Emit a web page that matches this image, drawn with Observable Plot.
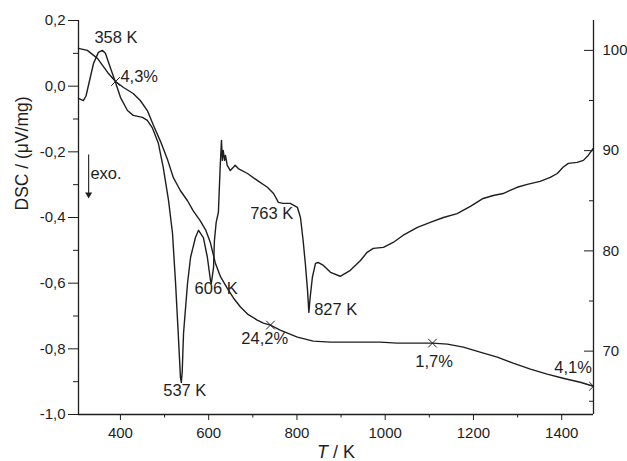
<!DOCTYPE html>
<html><head><meta charset="utf-8">
<script src="https://cdn.jsdelivr.net/npm/d3@7"></script>
<script src="https://cdn.jsdelivr.net/npm/@observablehq/plot@0.6"></script>
<style>body{margin:0;background:#fff} svg{display:block}</style>
</head><body><div id="chart"></div>
<script>
// DSC curve (left axis, µV/mg)
const dscT = [305,316,322,328,339,350,359,366,377,389,400,416,429,450,461,472,486,497,509,518,525,531,536,538,540,543,552,559,570,577,588,597,604,606,611,613,617,622,626,629,631,633,636,638,642,649,656,660,667,688,710,733,747,758,769,785,801,808,814,819,824,827,830,835,842,848,860,876,898,921,944,959,973,996,1018,1041,1073,1102,1132,1163,1193,1222,1245,1267,1299,1322,1351,1374,1390,1403,1415,1435,1449,1460,1471];
const dscV = [-0.037,-0.044,-0.030,0.005,0.069,0.103,0.109,0.100,0.057,0.011,-0.034,-0.074,-0.089,-0.095,-0.104,-0.126,-0.174,-0.247,-0.348,-0.448,-0.601,-0.753,-0.887,-0.902,-0.870,-0.753,-0.601,-0.521,-0.461,-0.439,-0.461,-0.521,-0.591,-0.601,-0.552,-0.470,-0.415,-0.384,-0.247,-0.165,-0.226,-0.196,-0.226,-0.211,-0.241,-0.257,-0.247,-0.241,-0.251,-0.266,-0.287,-0.308,-0.327,-0.354,-0.357,-0.357,-0.369,-0.400,-0.470,-0.540,-0.622,-0.689,-0.643,-0.582,-0.540,-0.537,-0.546,-0.567,-0.579,-0.561,-0.531,-0.506,-0.494,-0.491,-0.476,-0.454,-0.430,-0.415,-0.400,-0.388,-0.366,-0.342,-0.333,-0.327,-0.308,-0.299,-0.290,-0.278,-0.266,-0.247,-0.235,-0.232,-0.226,-0.211,-0.190];

// TG curve (right axis, mass %)
const tgT = [305,325,348,371,389,407,429,445,461,475,491,506,520,536,552,565,581,593,604,615,627,643,656,672,688,710,724,740,762,801,837,876,914,950,989,1027,1064,1107,1141,1177,1215,1254,1290,1329,1367,1403,1442,1472];
const tgM = [100.2,100.0,99.2,97.8,96.9,96.3,95.7,95.0,94.0,92.5,90.9,89.2,87.3,86.0,85.0,84.0,83.0,82.1,80.8,78.8,77.4,76.2,75.3,74.4,73.7,73.1,72.8,72.6,72.1,71.4,71.0,70.9,70.9,70.9,70.9,70.8,70.8,70.8,70.7,70.4,69.9,69.4,68.8,68.2,67.7,67.3,66.9,66.5];

// mass-loss markers on the TG curve
const markT = [389, 740, 1107, 1472];
const markM = [96.9, 72.6, 70.8, 66.5];

// annotation labels (baseline-left position in data units of the DSC axis)
const labelText = ["358 K","4,3%","606 K","763 K","827 K","537 K","24,2%","1,7%","4,1%"];
const labelT = [341, 400, 568, 694, 839, 497, 674, 1068, 1383];
const labelV = [0.130, 0.014, -0.634, -0.406, -0.698, -0.945, -0.786, -0.856, -0.875];

// ticks
const dscMajor = [-1.0,-0.8,-0.6,-0.4,-0.2,0.0,0.2];
const dscMinor = [-0.9,-0.7,-0.5,-0.3,-0.1,0.1];
const tgMajor = [70,80,90,100];
const tgMinor = [65,75,85,95];
const tMajor = [400,600,800,1000,1200,1400];
const tMinor = [500,700,900,1100,1300];

const xDomain = [305, 1472];
const yDomain = [-1.0, 0.2];
// map mass % onto the DSC axis (right axis: 100 -> 0.109, 70 -> -0.807)
const tg = d3.scaleLinear().domain([70, 100]).range([-0.807, 0.109]);

const dsc = dscT.map((t,i) => ({T: t, v: dscV[i]}));
const tga = tgT.map((t,i) => ({T: t, v: tg(tgM[i])}));
const marks = markT.map((t,i) => ({T: t, v: tg(markM[i])}));
const labels = labelText.map((s,i) => ({s, T: labelT[i], v: labelV[i]}));
const fmt = d => d.toFixed(1).replace(".", ",");
const ink = "#1e1e1e";
const W = 627, H = 461, ML = 78, MR = 34;

const plot = Plot.plot({
  width: W, height: H,
  marginLeft: ML, marginRight: MR, marginTop: 20, marginBottom: 47,
  style: {fontFamily: "'Liberation Sans', Arial, sans-serif", fontSize: "15px", color: ink, background: "#fff"},
  x: {domain: xDomain, label: null},
  y: {domain: yDomain, label: null},
  marks: [
    Plot.ruleX(xDomain, {stroke: ink, strokeWidth: 1.3}),
    Plot.ruleY([yDomain[0]], {stroke: ink, strokeWidth: 1.3}),
    Plot.axisX(tMajor, {tickSize: 6, tickPadding: 7, tickFormat: d => String(d), fontSize: 15, stroke: ink, fill: ink}),
    Plot.axisX(tMinor, {tickSize: 3.5, text: null, stroke: ink}),
    Plot.axisY(dscMajor, {anchor: "left", tickSize: 10, tickPadding: 3, tickFormat: fmt, fontSize: 15, stroke: ink, fill: ink}),
    Plot.axisY(dscMinor, {anchor: "left", tickSize: 5, text: null, stroke: ink}),
    Plot.axisY(tgMajor.map(tg), {anchor: "right", tickSize: 0, tickPadding: 9, tickFormat: v => String(Math.round(tg.invert(v))), fontSize: 15, fill: ink}),
    Plot.ruleY(tgMajor.map(tg), {insetLeft: W - ML - MR - 9, stroke: ink, strokeWidth: 1}),
    Plot.ruleY(tgMinor.map(tg), {insetLeft: W - ML - MR - 4, stroke: ink, strokeWidth: 1}),
    Plot.line(tga, {x: "T", y: "v", stroke: ink, strokeWidth: 1.4}),
    Plot.line(dsc, {x: "T", y: "v", stroke: ink, strokeWidth: 1.4}),
    Plot.dot(marks, {x: "T", y: "v", symbol: "times", r: 4, stroke: ink, strokeWidth: 1, clip: true}),
    Plot.text(labels, {x: "T", y: "v", text: "s", textAnchor: "start", lineAnchor: "bottom", fontSize: 16.5, fill: ink}),
    Plot.link([{x1: 328, y1: -0.208, x2: 328, y2: -0.330}], {x1: "x1", y1: "y1", x2: "x2", y2: "y2", stroke: ink, strokeWidth: 1.1}),
    Plot.dot([{x: 328, y: -0.330}], {x: "x", y: "y", symbol: "triangle", r: 2.6, rotate: 180, fill: ink, stroke: "none"}),
    Plot.text(["exo."], {x: [332], y: [-0.284], textAnchor: "start", lineAnchor: "bottom", fontSize: 16.5, fill: ink}),
    Plot.text(["DSC / (μV/mg)"], {frameAnchor: "left", rotate: -90, dx: -56, dy: -7, fontSize: 17.5, fill: ink})
  ]
});

const svg = d3.select(plot);
const xt = svg.append("text")
  .attr("x", 336).attr("y", 458)
  .attr("text-anchor", "middle")
  .attr("fill", ink)
  .style("font-size", "18px");
xt.append("tspan").style("font-style", "italic").text("T");
xt.append("tspan").text(" / K");

document.getElementById("chart").append(plot);
</script>
</body></html>
